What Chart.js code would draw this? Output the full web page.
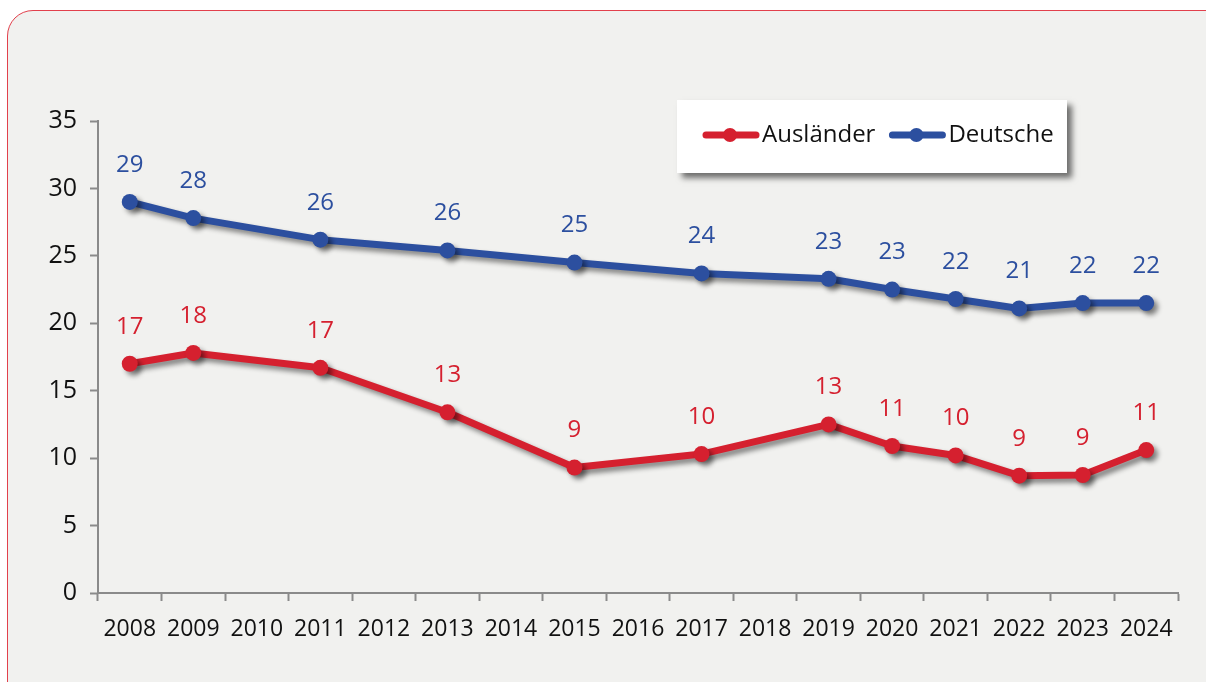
<!DOCTYPE html>
<html>
<head>
<meta charset="utf-8">
<script src="https://cdn.jsdelivr.net/npm/chart.js@4.4.1/dist/chart.umd.min.js"></script>
<style>
  html, body { margin: 0; background: #fff; width: 1206px; height: 682px; overflow: hidden; }
  #card { position: absolute; left: 7px; top: 10px; width: 1240px; height: 720px;
          border: 1px solid #e2404c; border-radius: 26px; background: #f1f1ef; }
  canvas { position: absolute; left: 0; top: 0; }
</style>
</head>
<body>
<div id="card"></div>
<canvas id="chart" width="1206" height="682"></canvas>
<script>
// data
const years = ["2008","2009","2010","2011","2012","2013","2014","2015","2016",
               "2017","2018","2019","2020","2021","2022","2023","2024"];
const auslaender = [17.0, 17.8, null, 16.7, null, 13.4, null, 9.3, null,
                    10.3, null, 12.5, 10.9, 10.2, 8.7, 8.75, 10.6];
const deutsche = [29.0, 27.8, null, 26.2, null, 25.4, null, 24.5, null,
                  23.7, null, 23.3, 22.5, 21.8, 21.1, 21.5, 21.5];
const auslaenderLabels = ["17","18",null,"17",null,"13",null,"9",null,
                          "10",null,"13","11","10","9","9","11"];
const deutscheLabels = ["29","28",null,"26",null,"26",null,"25",null,
                        "24",null,"23","23","22","21","22","22"];
const yTicks = [0, 5, 10, 15, 20, 25, 30, 35];

const RED = "#d5202f";
const BLUE = "#2c4f9f";
const FONT = '"Open Sans", sans-serif';

// drop shadow under the lines
const lineShadow = {
  id: "lineShadow",
  beforeDatasetsDraw(chart) {
    const ctx = chart.ctx;
    ctx.save();
    ctx.shadowColor = "rgba(0,0,0,0.45)";
    ctx.shadowBlur = 5;
    ctx.shadowOffsetX = 4;
    ctx.shadowOffsetY = 4;
  },
  afterDatasetsDraw(chart) {
    chart.ctx.restore();
  }
};

// value labels above the points
const valueLabels = {
  id: "valueLabels",
  afterDraw(chart) {
    const ctx = chart.ctx;
    ctx.save();
    ctx.font = "24px " + FONT;
    ctx.textAlign = "center";
    ctx.textBaseline = "middle";
    chart.data.datasets.forEach((ds, i) => {
      const meta = chart.getDatasetMeta(i);
      meta.data.forEach((pt, j) => {
        const txt = ds.valueLabels[j];
        if (txt == null) return;
        ctx.fillStyle = ds.borderColor;
        ctx.fillText(txt, pt.x, pt.y - 37);
      });
    });
    ctx.restore();
  }
};

// white legend box with shadow
const legendBox = {
  id: "legendBox",
  afterDraw(chart) {
    const ctx = chart.ctx;
    ctx.save();
    ctx.shadowColor = "rgba(0,0,0,0.55)";
    ctx.shadowBlur = 6;
    ctx.shadowOffsetX = 5;
    ctx.shadowOffsetY = 5;
    ctx.fillStyle = "#fff";
    ctx.fillRect(677, 100, 390, 73);
    ctx.restore();

    ctx.save();
    ctx.font = "24px " + FONT;
    ctx.textBaseline = "middle";
    let x = 706;
    const y = 135;
    chart.data.datasets.forEach(ds => {
      ctx.strokeStyle = ds.borderColor;
      ctx.fillStyle = ds.borderColor;
      ctx.lineWidth = 7;
      ctx.lineCap = "round";
      ctx.beginPath();
      ctx.moveTo(x, y);
      ctx.lineTo(x + 50, y);
      ctx.stroke();
      ctx.beginPath();
      ctx.arc(x + 24, y, 7, 0, Math.PI * 2);
      ctx.fill();
      ctx.fillStyle = "#111";
      ctx.fillText(ds.label, x + 56, y);
      x += 56 + ctx.measureText(ds.label).width + 17;
    });
    ctx.restore();
  }
};

new Chart(document.getElementById("chart"), {
  type: "line",
  data: {
    labels: years,
    datasets: [
      { label: "Ausländer", data: auslaender, valueLabels: auslaenderLabels,
        borderColor: RED, backgroundColor: RED },
      { label: "Deutsche", data: deutsche, valueLabels: deutscheLabels,
        borderColor: BLUE, backgroundColor: BLUE }
    ]
  },
  options: {
    responsive: false,
    animation: false,
    spanGaps: true,
    layout: { padding: { top: 121, right: 28, bottom: 0, left: 0 } },
    elements: {
      line: { borderWidth: 7, tension: 0, borderJoinStyle: "round" },
      point: { radius: 8, borderWidth: 0, hoverRadius: 8 }
    },
    plugins: { legend: { display: false }, tooltip: { enabled: false } },
    scales: {
      x: {
        offset: true,
        grid: { offset: true, drawOnChartArea: false, tickLength: 8, tickColor: "#8a8a8a", tickWidth: 2 },
        border: { color: "#8a8a8a", width: 2 },
        ticks: { color: "#111", font: { family: FONT, size: 23 }, padding: 15, maxRotation: 0, autoSkip: false },
        afterFit: s => { s.height = 89; }
      },
      y: {
        min: 0, max: 35,
        afterBuildTicks: s => { s.ticks = yTicks.map(v => ({ value: v })); },
        grid: { drawOnChartArea: false, tickLength: 8, tickColor: "#8a8a8a", tickWidth: 2 },
        border: { color: "#8a8a8a", width: 2 },
        ticks: { color: "#111", font: { family: FONT, size: 25 }, padding: 13 },
        afterFit: s => { s.width = 98; }
      }
    }
  },
  plugins: [lineShadow, valueLabels, legendBox]
});
</script>
</body>
</html>
